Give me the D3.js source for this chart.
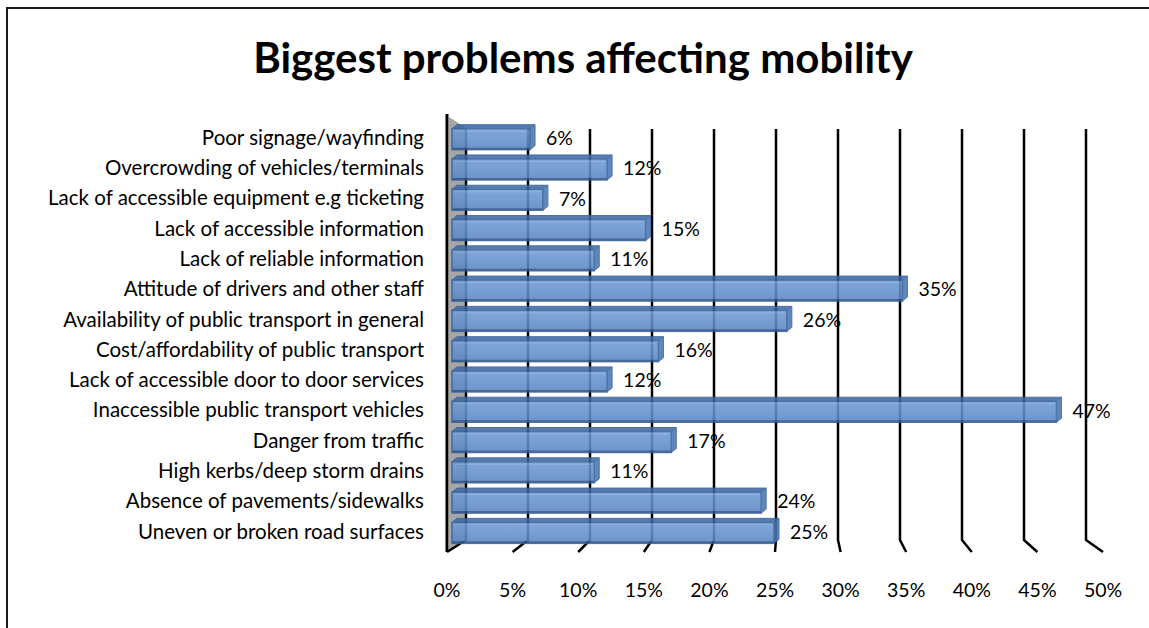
<!DOCTYPE html>
<html>
<head>
<meta charset="utf-8">
<script src="https://cdn.jsdelivr.net/npm/d3@7"></script>
<style>
  html, body { margin: 0; padding: 0; background: #fff; }
  svg { display: block; }
  text { font-family: Lato, "Noto Sans", sans-serif; fill: #000; }
</style>
</head>
<body>
<svg id="chart" width="1149" height="628"></svg>
<script>
// Survey answers, listed top to bottom as drawn
const categories = [
  "Poor signage/wayfinding",
  "Overcrowding of vehicles/terminals",
  "Lack of accessible equipment e.g ticketing",
  "Lack of accessible information",
  "Lack of reliable information",
  "Attitude of drivers and other staff",
  "Availability of public transport in general",
  "Cost/affordability of public transport",
  "Lack of accessible door to door services",
  "Inaccessible public transport vehicles",
  "Danger from traffic",
  "High kerbs/deep storm drains",
  "Absence of pavements/sidewalks",
  "Uneven or broken road surfaces"
];
const values = [6, 12, 7, 15, 11, 35, 26, 16, 12, 47, 17, 11, 24, 25];
const tickValues = [0, 5, 10, 15, 20, 25, 30, 35, 40, 45, 50];
const tickLabels = tickValues.map(t => t + "%");
const title = "Biggest problems affecting mobility";

const svg = d3.select("#chart");
const W = 1149, H = 628;

// Outer chart frame (left and top edges)
svg.append("path")
  .attr("d", `M7,${H} V8 H${W}`)
  .attr("fill", "none")
  .attr("stroke", "#1a1a1a")
  .attr("stroke-width", 2);

svg.append("text")
  .attr("x", 583).attr("y", 73)
  .attr("text-anchor", "middle")
  .style("font-weight", "700")
  .style("font-size", "42px")
  .text(title);

// 3D box: back wall, mid-depth (bars) and front edge of the floor
const xBack = d3.scaleLinear().domain([0, 50]).range([466, 1086]);
const xFront = d3.scaleLinear().domain([0, 50]).range([447, 1103]);
const xBar = d3.scaleLinear().domain([0, 50]).range([453, 1095]);
const backTop = 129, backBottom = 540, floorY = 552;

const y = d3.scaleBand().domain(categories).range([122, 546]).paddingInner(0).paddingOuter(0);

// Side wall
svg.append("path")
  .attr("d", `M449,117 L466,128 L466,${backBottom} L449,${floorY - 2} Z`)
  .attr("fill", "#a6a6a6");

// Gridlines: vertical on the back wall, then a floor segment toward the front
const grid = svg.append("g");
grid.selectAll("path")
  .data(tickValues)
  .join("path")
  .attr("d", t => `M${xBack(t)},${backTop} V${backBottom} L${xFront(t)},${floorY}`)
  .attr("fill", "none")
  .attr("stroke", "#000")
  .attr("stroke-width", 2.5)
  .attr("stroke-linejoin", "round");

// Front edge of the side wall
svg.append("line")
  .attr("x1", 447).attr("x2", 447)
  .attr("y1", 114).attr("y2", floorY)
  .attr("stroke", "#000").attr("stroke-width", 3);

// Tick labels along the front of the floor
svg.append("g").selectAll("text")
  .data(tickValues)
  .join("text")
  .attr("x", t => xFront(t))
  .attr("y", 590)
  .attr("dy", "0.35em")
  .attr("text-anchor", "middle")
  .style("font-size", "19.5px")
  .text((t, i) => tickLabels[i]);

// Category labels
svg.append("g").selectAll("text")
  .data(categories)
  .join("text")
  .attr("x", 424)
  .attr("y", d => y(d) + y.bandwidth() / 2 + 0.5)
  .attr("dy", "0.35em")
  .attr("text-anchor", "end")
  .style("font-size", "20.5px")
  .text(d => d);

// Bar gradient
const defs = svg.append("defs");
const grad = defs.append("linearGradient")
  .attr("id", "barFront").attr("x1", 0).attr("y1", 0).attr("x2", 0).attr("y2", 1);
grad.append("stop").attr("offset", "0%").attr("stop-color", "#6f9bd4");
grad.append("stop").attr("offset", "50%").attr("stop-color", "#6592cd");
grad.append("stop").attr("offset", "100%").attr("stop-color", "#5885c2");

const depthX = 5, depthY = 4, barH = 25;
const rows = categories.map((c, i) => ({ c, v: values[i] }));

const bars = svg.append("g").selectAll("g")
  .data(rows)
  .join("g")
  .attr("opacity", 0.88);

const x0 = xBar(0) - 1;
const barTop = d => y(d.c) + (y.bandwidth() - barH) / 2;

// top face
bars.append("path")
  .attr("d", d => {
    const t = barTop(d), x1 = xBar(d.v);
    return `M${x0},${t + depthY} L${x0 + depthX},${t} L${x1 + depthX},${t} L${x1},${t + depthY} Z`;
  })
  .attr("fill", "#3f6aa4")
  .attr("stroke", "#36609a").attr("stroke-width", 1);

// end face
bars.append("path")
  .attr("d", d => {
    const t = barTop(d), x1 = xBar(d.v);
    return `M${x1},${t + depthY} L${x1 + depthX},${t} L${x1 + depthX},${t + barH - depthY} L${x1},${t + barH} Z`;
  })
  .attr("fill", "#4a77b3")
  .attr("stroke", "#36609a").attr("stroke-width", 1);

// front face
bars.append("rect")
  .attr("x", x0)
  .attr("y", d => barTop(d) + depthY)
  .attr("width", d => xBar(d.v) - x0)
  .attr("height", barH - depthY)
  .attr("fill", "url(#barFront)")
  .attr("stroke", "#36609a").attr("stroke-width", 1.5);

// highlight just under the top edge
bars.append("line")
  .attr("x1", x0 + 2)
  .attr("x2", d => xBar(d.v) - 2)
  .attr("y1", d => barTop(d) + depthY + 2.5)
  .attr("y2", d => barTop(d) + depthY + 2.5)
  .attr("stroke", "#84a9dc").attr("stroke-width", 1);

// darker bottom edge
bars.append("line")
  .attr("x1", x0)
  .attr("x2", d => xBar(d.v))
  .attr("y1", d => barTop(d) + barH - 1)
  .attr("y2", d => barTop(d) + barH - 1)
  .attr("stroke", "#2f5589").attr("stroke-width", 2);

// Value labels
svg.append("g").selectAll("text")
  .data(rows)
  .join("text")
  .attr("x", d => xBar(d.v) + depthX + 11)
  .attr("y", d => y(d.c) + y.bandwidth() / 2 + 1)
  .attr("dy", "0.35em")
  .style("font-size", "19.5px")
  .text(d => d.v + "%");
</script>
</body>
</html>
